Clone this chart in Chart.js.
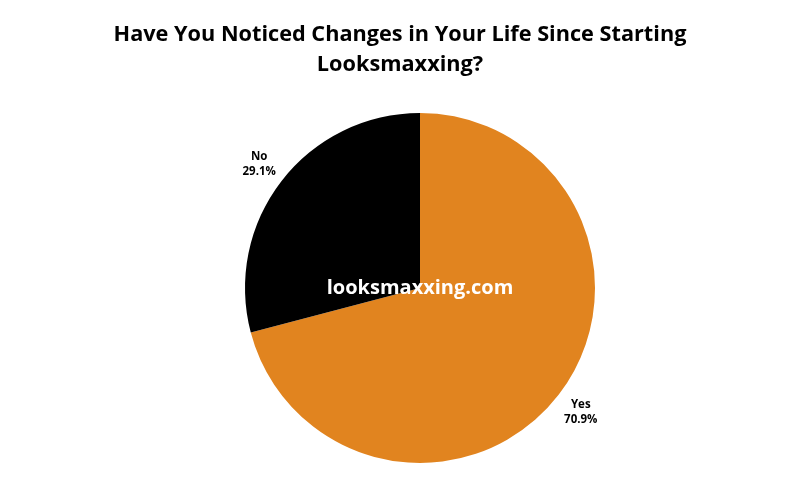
<!DOCTYPE html>
<html>
<head>
<meta charset="utf-8">
<script src="https://cdn.jsdelivr.net/npm/chart.js@4"></script>
<style>
  html, body { margin: 0; padding: 0; background: #fff; }
  #wrap { width: 800px; height: 500px; }
</style>
</head>
<body>
<div id="wrap"><canvas id="pie"></canvas></div>
<script>
const titleLines = ["Have You Noticed Changes in Your Life Since Starting", "Looksmaxxing?"];
const answers = ["Yes", "No"];
const shares = [70.9, 29.1];
const sliceColors = ["#E1841F", "#000000"];
const watermark = "looksmaxxing.com";

// title, slice labels and watermark drawn on top
const overlay = {
  id: 'overlay',
  afterDraw(chart) {
    const ctx = chart.ctx;
    ctx.save();
    ctx.fillStyle = '#000';
    ctx.textAlign = 'center';
    ctx.textBaseline = 'middle';
    ctx.font = 'bold 21.7px "Open Sans"';
    titleLines.forEach((t, i) => ctx.fillText(t, 400, 35 + i * 30));

    const arcs = chart.getDatasetMeta(0).data;
    ctx.font = 'bold 11.5px "Open Sans"';
    arcs.forEach((arc, i) => {
      const mid = (arc.startAngle + arc.endAngle) / 2;
      const r = arc.outerRadius * 1.16;
      const x = arc.x + Math.cos(mid) * r;
      const y = arc.y + Math.sin(mid) * r;
      ctx.fillText(answers[i], x, y - 7);
      ctx.fillText(shares[i].toFixed(1) + '%', x, y + 8);
    });

    const c = arcs[0];
    ctx.fillStyle = '#fff';
    ctx.font = 'bold 20px "Open Sans"';
    ctx.fillText(watermark, c.x, c.y);
    ctx.restore();
  }
};

new Chart(document.getElementById('pie'), {
  type: 'pie',
  data: {
    labels: answers,
    datasets: [{
      data: shares,
      backgroundColor: sliceColors,
      borderWidth: 0
    }]
  },
  options: {
    responsive: true,
    maintainAspectRatio: false,
    animation: false,
    layout: { padding: { top: 113, bottom: 37, left: 245, right: 205 } },
    plugins: {
      legend: { display: false },
      tooltip: { enabled: false }
    }
  },
  plugins: [overlay]
});
</script>
</body>
</html>
